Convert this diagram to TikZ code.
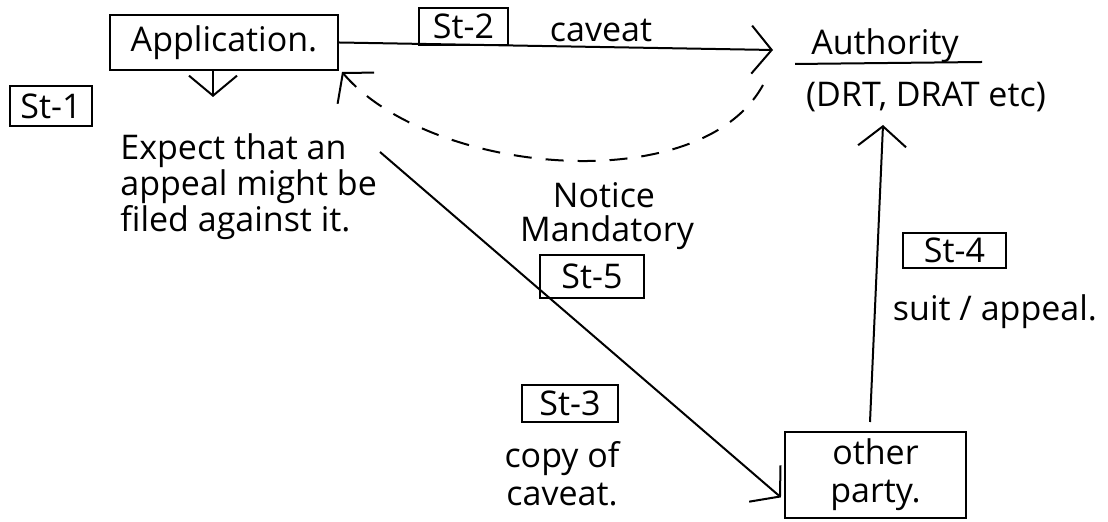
\documentclass[tikz,border=0pt]{standalone}
\usepackage{fontspec}
\setmainfont{Open Sans}
\usetikzlibrary{arrows.meta}
\begin{document}
\begin{tikzpicture}[x=0.5pt,y=-0.5pt,
  every node/.style={font=\fontsize{17}{16}\selectfont, inner sep=0pt},
  box/.style={draw, line width=1pt},
  tag/.style={draw, line width=1pt},
  barb/.tip={Straight Barb[length=10pt,width=24pt,line width=1pt]},
  link/.style={line width=1pt, -barb},
  caveatline/.style={line width=1pt, dash pattern=on 9pt off 7pt, -barb},
]
\useasboundingbox (0,0) rectangle (1108,522);

% parties
\node[box, minimum width=114pt, minimum height=27.5pt] (app) at (224,42.5) {Application.};
\node (auth) at (885,46) {Authority};
\node (dr) at (926,97) {(DRT, DRAT etc)};
\node[box, minimum width=90.5pt, minimum height=43pt, align=center] (party) at (875.5,475) {other\\[3pt]party.};

% step tags
\node[tag, minimum width=41pt, minimum height=20pt] (s1) at (51,106) {St-1};
\node[tag, minimum width=44.5pt, minimum height=18.5pt] (s2) at (463.5,26.5) {St-2};
\node[tag, minimum width=48pt, minimum height=18.5pt] (s3) at (570,403.5) {St-3};
\node[tag, minimum width=51.5pt, minimum height=17.5pt] (s4) at (954.5,250.5) {St-4};
\node[tag, minimum width=52pt, minimum height=21.5pt] (s5) at (592,276.5) {St-5};

% descriptions
\node[anchor=west, align=left] (expect) at (120,187) {Expect that an\\[0pt]appeal might be\\[0pt]filed against it.};
\node (cav) at (601,30) {caveat};
\node (notice) at (604,195) {Notice};
\node (mand) at (607,233) {Mandatory};
\node (suit) at (995,312) {suit / appeal.};
\node[align=center] (copy) at (562,474) {copy of\\[3pt]caveat.};

% underline of the authority
\coordinate (ul1) at (795,64);
\coordinate (ul2) at (982,62);
\draw[line width=1pt] (ul1) -- (ul2);

% connectors
\coordinate (tip2) at (773,50);
\draw[link] (app.east) -- (tip2);

\coordinate (expectin) at (213,97);
\draw[link] (app.south -| expectin) -- (expectin);

\coordinate (notstart) at (763,85);
\coordinate (notend) at (342,72);
\draw[caveatline] (notstart) .. controls (700,200) and (430,175) .. (notend);

\coordinate (copystart) at (380,152);
\draw[link, shorten >=2pt] (copystart) -- ([yshift=-12.5pt]party.west);

\coordinate (suitstart) at (870,422);
\coordinate (suittip) at (883,125);
\draw[link] (suitstart) -- (suittip);
\end{tikzpicture}
\end{document}
